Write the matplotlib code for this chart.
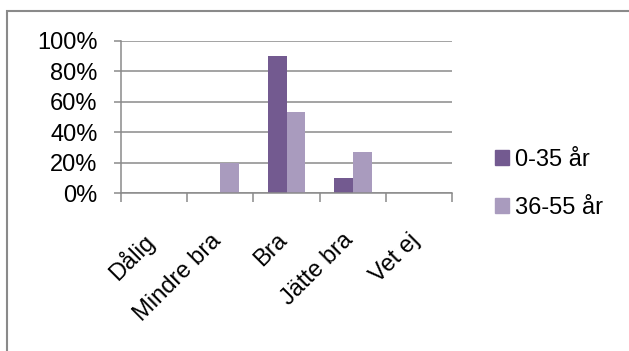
import numpy as np
import matplotlib
matplotlib.use('Agg')
import matplotlib.pyplot as plt
import matplotlib.transforms as mtrans
from matplotlib.patches import Patch, Rectangle
from matplotlib.ticker import FixedLocator, PercentFormatter

# data #
kategorier = ['Dålig', 'Mindre bra', 'Bra', 'Jätte bra', 'Vet ej']
serier = ['0-35 år', '36-55 år']
v_0_35 = [0.0, 0.0, 0.90, 0.10, 0.0]
v_36_55 = [0.0, 0.20, 0.53, 0.27, 0.0]

mork = '#735a90'
ljus = '#a99bbe'
gra = '#8a8a8a'

plt.rcParams['font.family'] = ['Liberation Sans', 'DejaVu Sans']
fs = 17

fig = plt.figure(figsize=(6.29, 3.51), dpi=100)
ax = fig.add_axes([121 / 629, 1 - 193.3 / 351, 331 / 629, 152.6 / 351])

x = np.arange(len(kategorier)) + 0.5
w = 1 / 3.5
ax.bar(x - w / 2, v_0_35, w, color=mork, zorder=3)
ax.bar(x + w / 2, v_36_55, w, color=ljus, zorder=3)

ax.set_xlim(0, len(kategorier))
ax.set_ylim(0, 1)

# y-axel #
ax.set_yticks(np.arange(0, 1.01, 0.2))
ax.yaxis.set_major_formatter(PercentFormatter(1.0, decimals=0))
ax.yaxis.grid(True, color=gra, linewidth=1.1, zorder=0)
ax.tick_params(axis='y', direction='out', length=5, width=1.1, color=gra,
               pad=12, labelsize=fs, labelcolor='black')

# x-axel #
ax.set_xticks(x)
ax.set_xticklabels(kategorier, rotation=45, ha='right', fontsize=fs)
ax.xaxis.set_minor_locator(FixedLocator(np.arange(0, len(kategorier) + 1)))
ax.tick_params(axis='x', which='major', length=0, pad=26)
ax.tick_params(axis='x', which='minor', direction='out', length=6.5, width=1.1, color=gra)
flytt = mtrans.ScaledTranslation(5 / 100, 0, fig.dpi_scale_trans)
for lbl in ax.get_xticklabels():
    lbl.set_transform(lbl.get_transform() + flytt)

for s in ['top', 'right']:
    ax.spines[s].set_visible(False)
for s in ['left', 'bottom']:
    ax.spines[s].set_color(gra)
    ax.spines[s].set_linewidth(1.1)
    ax.spines[s].set_zorder(4)

# legend #
handles = [Patch(color=mork, label=serier[0]), Patch(color=ljus, label=serier[1])]
fig.legend(handles=handles, loc='upper left', bbox_to_anchor=(495 / 629, 1 - 149 / 351),
           frameon=False, fontsize=fs, handlelength=0.6, handleheight=0.6,
           handletextpad=0.26, labelspacing=1.08, borderpad=0, borderaxespad=0)

# ram #
fig.patches.append(Rectangle((7 / 629, -0.05), 1.1, 1 - 10.5 / 351 + 0.05, transform=fig.transFigure,
                             fill=False, edgecolor=gra, linewidth=1.5, clip_on=False))

fig.savefig('out.png', dpi=100)
